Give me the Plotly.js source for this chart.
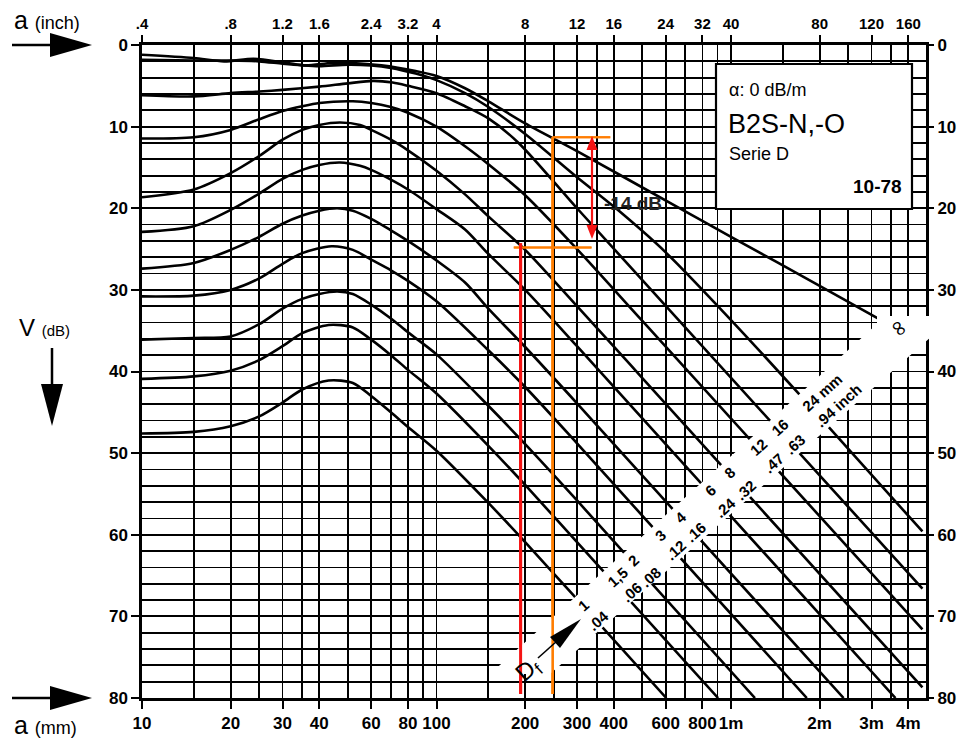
<!DOCTYPE html>
<html><head><meta charset="utf-8">
<script src="https://cdn.plot.ly/plotly-3.0.1.min.js"></script>
<style>html,body{margin:0;padding:0;background:#fff;} #chart{width:959px;height:740px;}</style>
</head><body><div id="chart"></div>
<script>
// ---------- data ----------
const gridX = [10,15,20,25,30,35,40,50,60,70,80,90,100,150,200,250,300,350,400,500,600,700,800,900,1000,1500,2000,2500,3000,3500,4000];
const gridY = [0,2,4,6,8,10,12,14,16,18,20,22,24,26,28,30,32,34,36,38,40,42,44,46,48,50,52,54,56,58,60,62,64,66,68,70,72,74,76,78,80];
const mmTickVals = [10,20,30,40,60,80,100,200,300,400,600,800,1000,2000,3000,4000];
const mmTickText = ['10','20','30','40','60','80','100','200','300','400','600','800','1m','2m','3m','4m'];
const inchValues = [0.4,0.8,1.2,1.6,2.4,3.2,4,8,12,16,24,32,40,80,120,160];
const inchLabels = ['.4','.8','1.2','1.6','2.4','3.2','4','8','12','16','24','32','40','80','120','160'];
const dbTickVals = [0,10,20,30,40,50,60,70,80];
const dbTickText = ['0','10','20','30','40','50','60','70','80'];

// backwall (infinite reflector)
const dInf = [10,15,19,24,31,36,44,52,65,85,100,125,150,200,300,661,1000,2000,3300];
const vInf = [1.2,1.6,2.0,1.7,2.2,2.5,2.2,2.2,2.5,3.2,3.8,5.3,6.9,9.6,13.0,19.9,23.5,29.5,33.9];
// disc reflectors
const d24 = [10,15,20,25,30,35,40,50,60,70,85,100,125,150,200,300,400,600,1000,1686,4467];
const v24 = [1.8,1.9,1.9,2.0,2.3,2.5,2.6,2.4,2.5,2.8,3.5,4.3,5.9,7.6,10.9,16.2,19.8,25.4,33.7,42.6,59.6];
const d16 = [10,15,20,25,30,40,50,61,71,80,100,125,150,190,300,500,4467];
const v16 = [6.15,6.3,5.9,5.7,5.5,5.1,4.7,4.4,4.6,5.0,5.9,7.5,9.0,12.0,20.0,28.8,66.6];
const d12 = [10,15,20,25,30,35,40,52,60,70,80,100,125,150,200,300,500,4467];
const v12 = [11.46,11.3,10.4,9.1,8.1,7.5,7.1,6.9,7.1,7.6,8.3,10.0,12.4,14.6,18.4,25.0,33.8,71.6];
const d8 = [10,15,20,25,30,35,40,47,55,60,70,80,100,125,150,200,300,500,4467];
const v8 = [18.65,17.7,15.7,13.6,11.6,10.4,9.8,9.5,9.8,10.4,11.6,12.9,15.4,18.3,21.0,25.1,32.0,40.8,78.7];
const d6 = [10,15,20,25,30,35,40,47,55,60,70,80,100,125,150,200,300,3618];
const v6 = [22.9,22.2,20.2,18.2,16.4,15.3,14.7,14.4,14.8,15.3,16.5,17.7,20.1,22.6,25.6,30.0,36.9,80];
const d4 = [10,15,20,25,30,35,40,46,52,60,70,80,100,125,150,200,300,2412];
const v4 = [27.4,26.7,25.1,23.5,21.9,20.9,20.3,20.0,20.3,21.3,22.7,24.0,26.4,29.1,32.3,37.0,43.9,80];
const d3 = [10,15,20,25,30,35,44,52,60,70,80,100,150,200,300,1809];
const v3 = [30.8,30.7,30.0,28.6,26.8,25.5,24.65,25.1,26.3,27.6,28.9,31.4,37.4,41.9,48.8,80];
const d2 = [10,15,20,25,30,35,40,46,52,60,70,80,100,150,200,300,1206];
const v2 = [36.1,35.9,35.7,34.2,32.3,31.1,30.5,30.2,30.5,31.8,33.5,35.2,37.9,44.2,48.9,55.8,80];
const d15 = [10,15,20,25,30,35,43,52,60,70,80,100,150,200,300,904];
const v15 = [40.9,40.6,39.9,38.6,36.9,35.3,34.3,34.6,36.1,38.0,39.8,42.7,49.1,53.9,60.9,80];
const d1 = [10,15,20,25,30,35,43,52,60,70,80,100,150,200,300,603];
const v1 = [47.6,47.4,46.7,45.5,43.8,42.2,41.1,41.4,43.0,45.0,46.8,49.7,56.1,60.9,67.9,80];

// example evaluation (orange / red marker lines)
const orangeX = [248, 248], orangeY = [11.3, 79.5];
const orangeTopX = [248, 389], orangeTopY = [11.3, 11.3];
const orangeLowX = [183, 336], orangeLowY = [24.8, 24.8];
const redX = [193, 193], redY = [24.3, 79.5];

// labels
const sizeLabels = ['24 mm','.94 inch','16','.63','12','.47','8','.32','6','.24','4','.16','3','.12','2','.08','1,5','.06','1','.04'];

// ---------- helpers (pixel -> paper) ----------
const L=142, R=926, T=45, B=698;
const PX = x => (x-L)/(R-L);
const PY = y => (B-y)/(B-T);
function poly(pts){ return 'M'+pts.map(p=>PX(p[0]).toFixed(5)+','+PY(p[1]).toFixed(5)).join(' L')+' Z'; }

const curves = [[dInf,vInf],[d24,v24],[d16,v16],[d12,v12],[d8,v8],[d6,v6],[d4,v4],[d3,v3],[d2,v2],[d15,v15],[d1,v1]];
const traces = curves.map(c=>({
  type:'scatter', mode:'lines', x:c[0], y:c[1], xaxis:'x', yaxis:'y',
  line:{color:'#000', width:2.6, shape:'spline', smoothing:0.8},
  hoverinfo:'skip', showlegend:false
}));
const orange = '#ff7d00', red = '#f51414';
const marks = [[orangeX,orangeY,orange,2.6],[orangeTopX,orangeTopY,orange,2],[orangeLowX,orangeLowY,orange,2],[redX,redY,red,3]];
marks.forEach(s=>{
  traces.push({type:'scatter', mode:'lines', x:s[0], y:s[1], line:{color:s[2], width:s[3]}, hoverinfo:'skip', showlegend:false});
});
traces.push({type:'scatter', x:[], y:[], xaxis:'x2', yaxis:'y2', hoverinfo:'skip', showlegend:false});

const tickFont = {family:'Liberation Sans Narrow, Arial Narrow, sans-serif', size:17, color:'#000', weight:'bold'};
const topFont = {family:'Liberation Sans Narrow, Arial Narrow, sans-serif', size:15, color:'#000', weight:'bold'};

const shapes = [];
// white diagonal label band
shapes.push({type:'path', xref:'paper', yref:'paper', layer:'above', fillcolor:'#fff', line:{width:0},
  path: poly([[490,674],[877,324],[877,316],[932,316],[932,336],[550,674]])});
// info box
shapes.push({type:'rect', xref:'paper', yref:'paper', layer:'above', fillcolor:'#fff', line:{color:'#000', width:2.2},
  x0:PX(716), x1:PX(912), y0:PY(209), y1:PY(64)});
// marker lines again above the band (data coordinates)
marks.forEach(s=>{
  shapes.push({type:'line', xref:'x', yref:'y', layer:'above', x0:s[0][0], x1:s[0][1], y0:s[1][0], y1:s[1][1], line:{color:s[2], width:s[3]}});
});
// red double arrow
shapes.push({type:'line', xref:'paper', yref:'paper', layer:'above', x0:PX(592), x1:PX(592), y0:PY(145), y1:PY(230), line:{color:red, width:2.2}});
shapes.push({type:'path', xref:'paper', yref:'paper', layer:'above', fillcolor:red, line:{width:0}, path:poly([[592,136],[586.5,150],[597.5,150]])});
shapes.push({type:'path', xref:'paper', yref:'paper', layer:'above', fillcolor:red, line:{width:0}, path:poly([[592,239],[586.5,225],[597.5,225]])});
// axis arrows
shapes.push({type:'line', xref:'paper', yref:'paper', x0:PX(12), x1:PX(55), y0:PY(45), y1:PY(45), line:{color:'#000', width:2.5}});
shapes.push({type:'path', xref:'paper', yref:'paper', fillcolor:'#000', line:{width:0}, path:poly([[50,33],[92,45],[50,57]])});
shapes.push({type:'line', xref:'paper', yref:'paper', x0:PX(12), x1:PX(55), y0:PY(698), y1:PY(698), line:{color:'#000', width:2.5}});
shapes.push({type:'path', xref:'paper', yref:'paper', fillcolor:'#000', line:{width:0}, path:poly([[50,686],[92,698],[50,710]])});
shapes.push({type:'line', xref:'paper', yref:'paper', x0:PX(52), x1:PX(52), y0:PY(348), y1:PY(390), line:{color:'#000', width:2.5}});
shapes.push({type:'path', xref:'paper', yref:'paper', fillcolor:'#000', line:{width:0}, path:poly([[41,384],[63,384],[52,426]])});
// Df arrow
shapes.push({type:'line', xref:'paper', yref:'paper', layer:'above', x0:PX(538), x1:PX(557), y0:PY(658), y1:PY(641), line:{color:'#000', width:1.6}});
shapes.push({type:'path', xref:'paper', yref:'paper', layer:'above', fillcolor:'#000', line:{width:0}, path:poly([[581,619],[560,648],[550,637]])});

const ann = [];
function txt(t, x, y, font, opts){ ann.push(Object.assign({text:t, xref:'paper', yref:'paper', x:PX(x), y:PY(y), showarrow:false, xanchor:'center', yanchor:'middle', font:font}, opts||{})); }
const lab = {family:'Liberation Sans, Arial, sans-serif', color:'#000'};
txt('a <span style="font-size:18px">(inch)</span>', 12, 20, Object.assign({size:25}, lab), {xanchor:'left'});
txt('V <span style="font-size:15px">(dB)</span>', 17, 328, Object.assign({size:24}, lab), {xanchor:'left'});
txt('a <span style="font-size:18px">(mm)</span>', 12, 725, Object.assign({size:25}, lab), {xanchor:'left'});
// box texts
txt('α: 0 dB/m', 727, 90, Object.assign({size:18}, lab), {xanchor:'left'});
txt('B2S-N,-O', 726, 124, Object.assign({size:27}, lab), {xanchor:'left'});
txt('Serie D', 727, 154, Object.assign({size:18}, lab), {xanchor:'left'});
txt('10-78', 904, 187, {family:'Liberation Sans Narrow, sans-serif', size:19, color:'#000', weight:'bold'}, {xanchor:'right'});
// -14 dB
txt('-14 dB', 633, 203, {family:'Liberation Sans, Arial, sans-serif', size:19, color:'#222', weight:'bold'});
// band labels
const bandPos = [[822,392],[838,405],[780,428],[795,445],[758,447],[773,463],[730,473],[745,490],[710,490],[725,507],[680,517],[695,532],[660,535],[675,550],[633,560],[650,577],[617,577],[631,592],[583,605],[598,620]];
const bandFont = {family:'Liberation Sans Narrow, sans-serif', size:15, color:'#000', weight:'bold'};
sizeLabels.forEach((s,i)=>txt(s, bandPos[i][0], bandPos[i][1], bandFont, {textangle:-42}));
txt('∞', 899, 328, {family:'DejaVu Sans, sans-serif', size:22, color:'#000'}, {textangle:52});
txt('D<sub>f</sub>', 528, 670, {family:'Liberation Sans, Arial, sans-serif', size:24, color:'#000'}, {textangle:-42});

const xr = [1, 1 + (R-L)/294.5];
const layout = {
  width:959, height:740, margin:{l:L, r:959-R, t:T, b:740-B, pad:0},
  paper_bgcolor:'#fff', plot_bgcolor:'#fff', showlegend:false, hovermode:false,
  xaxis:{type:'log', range:xr, tickmode:'array', tickvals:mmTickVals, ticktext:mmTickText,
    ticks:'outside', ticklen:8, tickwidth:2, tickcolor:'#000', tickfont:tickFont,
    showgrid:true, gridcolor:'#000', gridwidth:1.8,
    minor:{tickmode:'array', tickvals:gridX, showgrid:true, gridcolor:'#000', gridwidth:1.8, ticks:''},
    showline:true, linecolor:'#000', linewidth:2.6, mirror:true, zeroline:false, fixedrange:true},
  yaxis:{range:[80,0], tickmode:'array', tickvals:dbTickVals, ticktext:dbTickText,
    ticks:'outside', ticklen:8, tickwidth:2, tickcolor:'#000', tickfont:tickFont,
    showgrid:true, gridcolor:'#000', gridwidth:1.8,
    minor:{tickmode:'array', tickvals:gridY, showgrid:true, gridcolor:'#000', gridwidth:1.8, ticks:''},
    showline:true, linecolor:'#000', linewidth:2.6, mirror:true, zeroline:false, fixedrange:true},
  xaxis2:{type:'log', overlaying:'x', side:'top', anchor:'y', range:xr, tickmode:'array',
    tickvals:inchValues.map(v=>v*25), ticktext:inchLabels, ticks:'outside', ticklen:9, tickwidth:2, tickcolor:'#000',
    tickfont:topFont, showgrid:false, showline:false, zeroline:false, fixedrange:true},
  yaxis2:{overlaying:'y', side:'right', anchor:'x', range:[80,0], tickmode:'array', tickvals:dbTickVals, ticktext:dbTickText,
    ticks:'outside', ticklen:7, tickwidth:2, tickcolor:'#000', tickfont:tickFont, showgrid:false, showline:false, zeroline:false, fixedrange:true},
  shapes:shapes, annotations:ann
};
Plotly.newPlot('chart', traces, layout, {staticPlot:true, displayModeBar:false});
</script></body></html>
